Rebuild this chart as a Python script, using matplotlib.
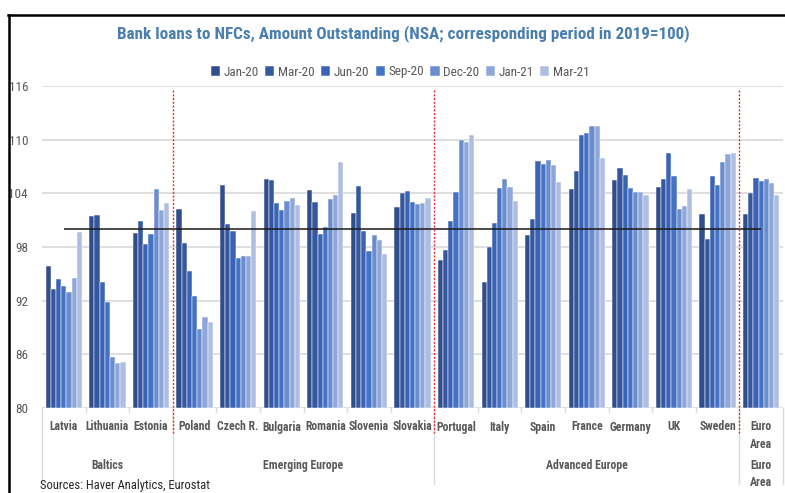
import matplotlib
matplotlib.use("Agg")
import matplotlib.pyplot as plt
import numpy as np
from matplotlib.lines import Line2D
from matplotlib import font_manager as fm
from matplotlib.font_manager import FontProperties

# ---- pick a narrow font family with regular + bold faces ----
def wnum(w):
    if isinstance(w, (int, float)):
        return w
    return fm.weight_dict.get(w, 400)

narrow_stretch = ('condensed', 'semi-condensed', 'extra-condensed', 'ultra-condensed')
fams = {}
for f in fm.fontManager.ttflist:
    if f.style != 'normal':
        continue
    nm = f.name.lower()
    if 'narrow' in nm or 'condensed' in nm or f.stretch in narrow_stretch:
        fams.setdefault((f.name, str(f.stretch)), []).append(f)

pref = ['Liberation Sans Narrow', 'Roboto Condensed', 'Open Sans Condensed',
        'Noto Sans', 'Noto Sans Condensed', 'Open Sans', 'Roboto', 'DejaVu Sans']

def rank(key):
    fl = fams[key]
    has_r = any(350 <= wnum(f.weight) <= 450 for f in fl)
    has_b = any(wnum(f.weight) >= 600 for f in fl)
    p = pref.index(key[0]) if key[0] in pref else len(pref)
    return (not (has_r and has_b), p)

reg_file = bold_file = None
if fams:
    best = sorted(fams, key=rank)[0]
    fl = fams[best]
    reg_file = min(fl, key=lambda f: abs(wnum(f.weight) - 400)).fname
    bold_file = min(fl, key=lambda f: abs(wnum(f.weight) - 700)).fname

def fp(size, bold=False):
    if reg_file:
        return FontProperties(fname=bold_file if bold else reg_file, size=size)
    return FontProperties(family='Lato', weight='bold' if bold else 'normal', size=size * 0.85)

# ---- data ----
countries = ["Latvia", "Lithuania", "Estonia", "Poland", "Czech R.", "Bulgaria", "Romania",
             "Slovenia", "Slovakia", "Portugal", "Italy", "Spain", "France", "Germany", "UK",
             "Sweden", "Euro\nArea"]
groups = ["Baltics", "Emerging Europe", "Advanced Europe", "Euro\nArea"]
group_sizes = [3, 6, 7, 1]
periods = ["Jan-20", "Mar-20", "Jun-20", "Sep-20", "Dec-20", "Jan-21", "Mar-21"]

jan20 = [95.9, 101.5, 99.6, 102.2, 104.9, 105.6, 104.4, 101.8, 102.5, 96.5, 94.1, 99.3, 104.5, 105.5, 104.7, 101.65, 101.7]
mar20 = [93.3, 101.6, 100.9, 98.4, 100.6, 105.5, 103.0, 104.8, 104.0, 97.7, 98.0, 101.1, 106.5, 106.8, 105.6, 98.9, 104.0]
jun20 = [94.4, 94.1, 98.3, 95.3, 99.8, 102.9, 99.4, 99.8, 104.3, 100.9, 100.7, 107.6, 110.5, 106.1, 108.5, 105.9, 105.7]
sep20 = [93.6, 91.9, 99.4, 92.5, 96.8, 102.1, 100.2, 97.5, 103.0, 104.2, 104.6, 107.3, 110.8, 104.6, 105.9, 104.9, 105.4]
dec20 = [93.0, 85.7, 104.5, 88.8, 97.0, 103.1, 103.4, 99.3, 102.8, 110.0, 105.6, 107.7, 111.5, 104.1, 102.3, 107.5, 105.6]
jan21 = [94.5, 85.0, 102.1, 90.2, 97.0, 103.5, 103.8, 98.8, 102.9, 109.7, 104.7, 107.2, 111.5, 104.2, 102.6, 108.4, 105.2]
mar21 = [99.7, 85.1, 102.9, 89.6, 102.0, 102.7, 107.5, 97.25, 103.5, 110.5, 103.1, 105.3, 107.9, 103.85, 104.5, 108.5, 103.85]
series = [jan20, mar20, jun20, sep20, dec20, jan21, mar21]
baseline = 100

colors = ['#2F4E8B', '#3457A0', '#3A63B6', '#4472C4', '#6A8DCF', '#8EA7D8', '#AEBEE2']
label_gray = '#595959'

fig = plt.figure(figsize=(7.85, 4.93), dpi=100)
W, H = 785, 493
ax = fig.add_axes([42 / W, (H - 408) / H, (783 - 42) / W, (408 - 86) / H])

x = np.arange(len(countries))
bw = 0.119
for i, (vals, lab, c) in enumerate(zip(series, periods, colors)):
    ax.bar(x + (i - 3) * bw, np.array(vals) - 80, bottom=80, width=bw, color=c,
           edgecolor='white', linewidth=0.35, label=lab, zorder=3)

ax.set_xlim(-0.5, len(countries) - 0.5)
ax.set_ylim(80, 116)
ax.set_yticks(np.arange(80, 117, 6))
ax.tick_params(axis='y', length=0, pad=10, labelcolor=label_gray)
for lbl in ax.get_yticklabels():
    lbl.set_fontproperties(fp(9.5))
ax.grid(axis='y', color='#d9d9d9', linewidth=1.2, zorder=0)
for s in ax.spines.values():
    s.set_visible(False)

ax.hlines(baseline, x[0], x[-1], color='#1a1a1a', linewidth=1.1, zorder=5)

# category labels
ax.set_xticks(x)
ax.set_xticklabels(countries, color=label_gray, va='top', linespacing=1.4)
for lbl in ax.get_xticklabels():
    lbl.set_fontproperties(fp(8.5, bold=True))
ax.tick_params(axis='x', length=0, pad=9)

# group labels and separators
trans = ax.get_xaxis_transform()
bounds = np.concatenate([[0], np.cumsum(group_sizes)]) - 0.5
for g, (a, b) in zip(groups, zip(bounds[:-1], bounds[1:])):
    ax.text((a + b) / 2, -0.158, g, transform=trans, ha='center', va='top',
            fontproperties=fp(8.5, bold=True), color=label_gray, linespacing=1.4)
for bnd in bounds:
    ax.plot([bnd, bnd], [0, -0.235], transform=trans, color='#d9d9d9',
            linewidth=1.0, clip_on=False, zorder=1)
for xb in x[:-1] + 0.5:
    if xb not in bounds:
        ax.plot([xb, xb], [0, -0.012], transform=trans, color='#d9d9d9',
                linewidth=1.0, clip_on=False, zorder=1)
# red dotted separators between groups
for bnd in bounds[1:-1]:
    ax.plot([bnd, bnd], [0.988, -0.078], transform=trans, color='#e03030',
            linewidth=1.0, linestyle=(0, (1.5, 1.2)), clip_on=False, zorder=6)

leg = ax.legend(loc='center', bbox_to_anchor=(400 / W, (H - 72) / H),
                bbox_transform=fig.transFigure, ncol=7, frameon=False,
                prop=fp(9.5), handlelength=0.7, handleheight=0.7,
                handletextpad=0.25, columnspacing=0.5, borderaxespad=0)
for t in leg.get_texts():
    t.set_color(label_gray)

fig.text(403 / W, (H - 34) / H,
         "Bank loans to NFCs, Amount Outstanding (NSA; corresponding period in 2019=100)",
         ha='center', va='center', fontproperties=fp(12.3, bold=True), color='#4A7EB0')
fig.text(40 / W, (H - 485) / H, "Sources: Haver Analytics, Eurostat",
         ha='left', va='center', fontproperties=fp(9), color='#262626')

# outer frame
fig.add_artist(Line2D([8 / W, 1], [(H - 15) / H, (H - 15) / H], color='black', linewidth=1.8))
fig.add_artist(Line2D([9 / W, 9 / W], [0, (H - 15) / H], color='black', linewidth=1.8))

fig.savefig("out.png", dpi=100)
